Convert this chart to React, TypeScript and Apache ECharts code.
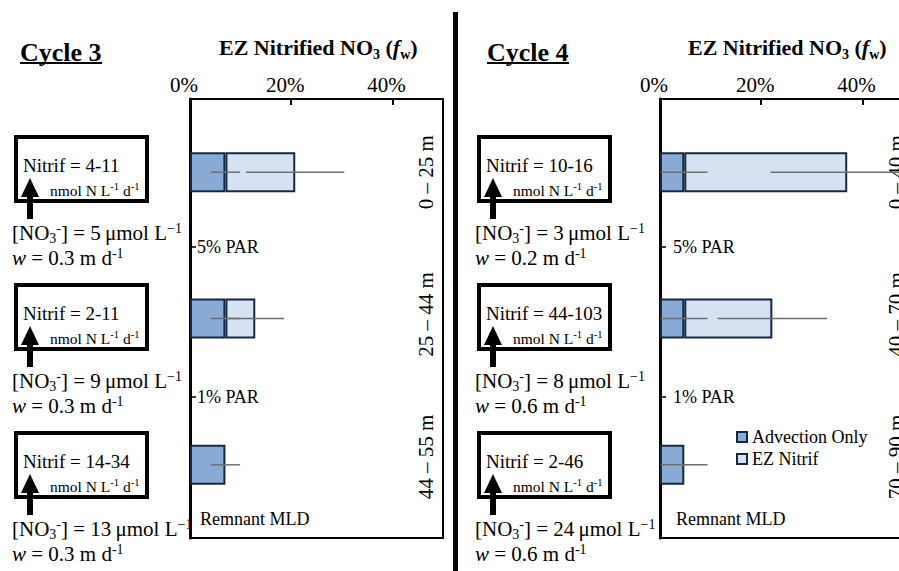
import React, { useEffect, useRef } from "react";
import * as echarts from "echarts";

// ---------- data ----------
const depthBands3 = ["0 – 25 m", "25 – 44 m", "44 – 55 m"];
const depthBands4 = ["0 – 40 m", "40 – 70 m", "70 – 90 m"];
const advection3 = [7, 7, 7];
const ezNitrif3: (number | null)[] = [13.8, 5.9, null];
const advErr3 = [2.9, 2.9, 2.9];
const ezErr3: (number | null)[] = [9.7, 5.7, null];
const advection4 = [4.8, 4.8, 4.8];
const ezNitrif4: (number | null)[] = [32.2, 17.4, null];
const advErr4 = [4.6, 4.6, 4.6];
const ezErr4: (number | null)[] = [15.2, 10.8, null];
const xTickStep = 20;
const xMax = 50;
const nitrif3 = ["4-11", "2-11", "14-34"];
const nitrif4 = ["10-16", "44-103", "2-46"];
const no3Conc3 = [5, 9, 13];
const no3Conc4 = [3, 8, 24];
const wVel3 = [0.3, 0.3, 0.3];
const wVel4 = [0.2, 0.6, 0.6];
const parLabels = ["5% PAR", "1% PAR", "Remnant MLD"];
const cycleNames = ["Cycle 3", "Cycle 4"];

const FONT = "'Liberation Serif', 'Times New Roman', serif";

const richStyles: any = {
  b: { fontSize: 21, fontFamily: FONT, lineHeight: 24, color: "#000" },
  bi: { fontSize: 21, fontFamily: FONT, fontStyle: "italic", lineHeight: 24, color: "#000" },
  sub: { fontSize: 14, fontFamily: FONT, lineHeight: 10, verticalAlign: "bottom", color: "#000" },
  sup: { fontSize: 14, fontFamily: FONT, lineHeight: 10, verticalAlign: "top", color: "#000" },
  s: { fontSize: 15.5, fontFamily: FONT, lineHeight: 18, color: "#000" },
  ssup: { fontSize: 10.5, fontFamily: FONT, lineHeight: 8, verticalAlign: "top", color: "#000" },
  t: { fontSize: 22, fontFamily: FONT, fontWeight: "bold", lineHeight: 28, color: "#000" },
  ti: { fontSize: 22, fontFamily: FONT, fontWeight: "bold", fontStyle: "italic", lineHeight: 28, color: "#000" },
  tsub: { fontSize: 14, fontFamily: FONT, fontWeight: "bold", lineHeight: 14, verticalAlign: "bottom", color: "#000" },
};

function richText(x: number, y: number, text: string) {
  return {
    type: "text",
    x,
    y,
    style: { text, rich: richStyles, fontSize: 21, fontFamily: FONT, fill: "#000", textAlign: "left", textVerticalAlign: "middle" },
  };
}

function panelGraphics(
  titleX: number,
  ezTitleX: number,
  boxLeft: number,
  axisX: number,
  parX: number,
  name: string,
  nitrif: string[],
  no3: number[],
  w: number[]
) {
  const els: any[] = [];
  const rowTops = [135, 283, 431];
  const parY = [247, 397, 519];
  els.push({
    type: "text",
    x: titleX,
    y: 52,
    style: { text: name, font: `bold 26px ${FONT}`, fill: "#000", textVerticalAlign: "middle" },
  });
  els.push({ type: "rect", shape: { x: titleX, y: 62, width: 82, height: 2 }, style: { fill: "#000" } });
  els.push(richText(ezTitleX, 47, "{t|EZ Nitrified NO}{tsub|3}{t| (}{ti|f}{tsub|w}{t|)}"));
  rowTops.forEach((top, r) => {
    els.push({
      type: "rect",
      shape: { x: boxLeft + 2, y: top + 2, width: 131, height: 64 },
      style: { fill: "#fff", stroke: "#000", lineWidth: 4 },
    });
    const cx = boxLeft + 16;
    els.push({
      type: "polygon",
      shape: { points: [[cx, top + 43], [cx - 9, top + 62], [cx + 9, top + 62]] },
      style: { fill: "#000" },
    });
    els.push({ type: "rect", shape: { x: cx - 3, y: top + 60, width: 6, height: 24 }, style: { fill: "#000" } });
    els.push({
      type: "text",
      x: boxLeft + 9,
      y: top + 30,
      style: { text: `Nitrif = ${nitrif[r]}`, font: `19px ${FONT}`, fill: "#000", textVerticalAlign: "middle" },
    });
    els.push(richText(boxLeft + 36, top + 55, "{s|nmol N L}{ssup|-1}{s| d}{ssup|-1}"));
    els.push(richText(boxLeft - 2, top + 98, `{b|[NO}{sub|3}{sup|-}{b|] = ${no3[r]}\u2009μmol L}{sup|\u22121}`));
    els.push(richText(boxLeft - 2, top + 123, `{bi|w}{b| = ${w[r]} m d}{sup|-1}`));
    if (r < 2) {
      els.push({ type: "line", shape: { x1: axisX, y1: parY[r], x2: axisX + 6, y2: parY[r] }, style: { stroke: "#000", lineWidth: 1.5 } });
    }
    els.push({
      type: "text",
      x: r < 2 ? parX : parX + 3,
      y: parY[r],
      style: { text: parLabels[r], font: `18px ${FONT}`, fill: "#000", textVerticalAlign: "middle" },
    });
  });
  return els;
}

function axesFor(i: number, bands: string[]) {
  const xAxis = {
    type: "value",
    gridIndex: i,
    position: "top",
    min: 0,
    max: xMax,
    interval: xTickStep,
    axisLine: { show: true, lineStyle: { color: "#000", width: 2 } },
    axisTick: { show: true, inside: true, length: 6, lineStyle: { color: "#000", width: 2 } },
    axisLabel: {
      formatter: (v: number) => (v % xTickStep === 0 ? `${v}%` : ""),
      fontSize: 21,
      fontFamily: FONT,
      color: "#000",
      margin: 4,
      padding: [0, 12, 0, 0],
    },
    splitLine: { show: false },
  };
  const yLeft = {
    type: "category",
    gridIndex: i,
    data: bands,
    inverse: true,
    position: "left",
    axisLine: { show: true, lineStyle: { color: "#000", width: 3 } },
    axisTick: { show: false },
    axisLabel: { show: false },
  };
  const labelStyle = { fontSize: 21, fontFamily: FONT, color: "#000" };
  const yRight = {
    type: "category",
    gridIndex: i,
    data: bands,
    inverse: true,
    position: "right",
    axisLine: { show: false },
    axisTick: { show: false },
    axisLabel: {
      inside: true,
      rotate: 90,
      margin: 7,
      interval: 0,
      hideOverlap: false,
      ...labelStyle,
      formatter: (v: string, idx: number) => `{p${idx}|${v}}`,
      rich: {
        p0: { ...labelStyle },
        p1: { ...labelStyle, padding: [0, 0, 0, 8] },
        p2: { ...labelStyle, padding: [0, 0, 0, 16] },
      },
    },
  };
  return { xAxis, yLeft, yRight };
}

function seriesFor(i: number, adv: number[], ez: (number | null)[], aErr: number[], eErr: (number | null)[]) {
  const bar = (name: string, data: any[], color: string) => ({
    name,
    type: "bar",
    stack: `c${i}`,
    xAxisIndex: i,
    yAxisIndex: 2 * i,
    barWidth: 40,
    data,
    itemStyle: { color, borderColor: "#172842", borderWidth: 2 },
  });
  const errData: number[][] = [];
  adv.forEach((a, k) => errData.push([a, aErr[k], k]));
  ez.forEach((e, k) => {
    if (e != null && eErr[k] != null) errData.push([adv[k] + e, eErr[k] as number, k]);
  });
  return [
    bar("Advection Only", adv, "#88AAD4"),
    bar("EZ Nitrif", ez.map((v) => (v == null ? "-" : v)), "#D6E2F2"),
    {
      type: "custom",
      xAxisIndex: i,
      yAxisIndex: 2 * i,
      silent: true,
      z: 5,
      data: errData,
      encode: { x: 0, y: 2 },
      renderItem: (_p: any, api: any) => {
        const c = api.value(0);
        const e = api.value(1);
        const k = api.value(2);
        const a = api.coord([c - e, k]);
        const b = api.coord([c + e, k]);
        return {
          type: "line",
          shape: { x1: a[0], y1: a[1], x2: b[0], y2: b[1] },
          style: { stroke: "#6e6e6e", lineWidth: 1.5 },
        };
      },
    },
  ];
}

export default function App() {
  const ref = useRef<HTMLDivElement>(null);
  useEffect(() => {
    if (!ref.current) return;
    const chart = echarts.init(ref.current, undefined, { renderer: "svg" });
    const a0 = axesFor(0, depthBands3);
    const a1 = axesFor(1, depthBands4);
    const option: any = {
      animation: false,
      backgroundColor: "#fff",
      grid: [
        { left: 190, top: 99, width: 253, height: 439, show: true, borderColor: "#000", borderWidth: 2, backgroundColor: "transparent" },
        { left: 660, top: 99, width: 253, height: 439, show: true, borderColor: "#000", borderWidth: 2, backgroundColor: "transparent" },
      ],
      xAxis: [a0.xAxis, a1.xAxis],
      yAxis: [a0.yLeft, a0.yRight, a1.yLeft, a1.yRight],
      legend: {
        data: ["Advection Only", "EZ Nitrif"],
        orient: "vertical",
        left: 736,
        top: 428,
        itemWidth: 10,
        itemHeight: 10,
        itemGap: 4,
        padding: 0,
        icon: "rect",
        textStyle: { fontSize: 18, fontFamily: FONT, color: "#000" },
      },
      series: [
        ...seriesFor(0, advection3, ezNitrif3, advErr3, ezErr3),
        ...seriesFor(1, advection4, ezNitrif4, advErr4, ezErr4),
      ],
      graphic: {
        elements: [
          { type: "rect", shape: { x: 453, y: 12, width: 5, height: 571 }, style: { fill: "#000" } },
          ...panelGraphics(20, 219, 14, 190, 197, cycleNames[0], nitrif3, no3Conc3, wVel3),
          ...panelGraphics(487, 688, 477, 660, 673, cycleNames[1], nitrif4, no3Conc4, wVel4),
        ],
      },
    };
    chart.setOption(option);
    return () => chart.dispose();
  }, []);
  return (
    <div style={{ position: "absolute", left: 0, top: 0, width: "899px", height: "571px", overflow: "hidden", background: "#fff" }}>
      <div ref={ref} style={{ position: "absolute", left: 0, top: 0, width: "935px", height: "571px" }} />
    </div>
  );
}
